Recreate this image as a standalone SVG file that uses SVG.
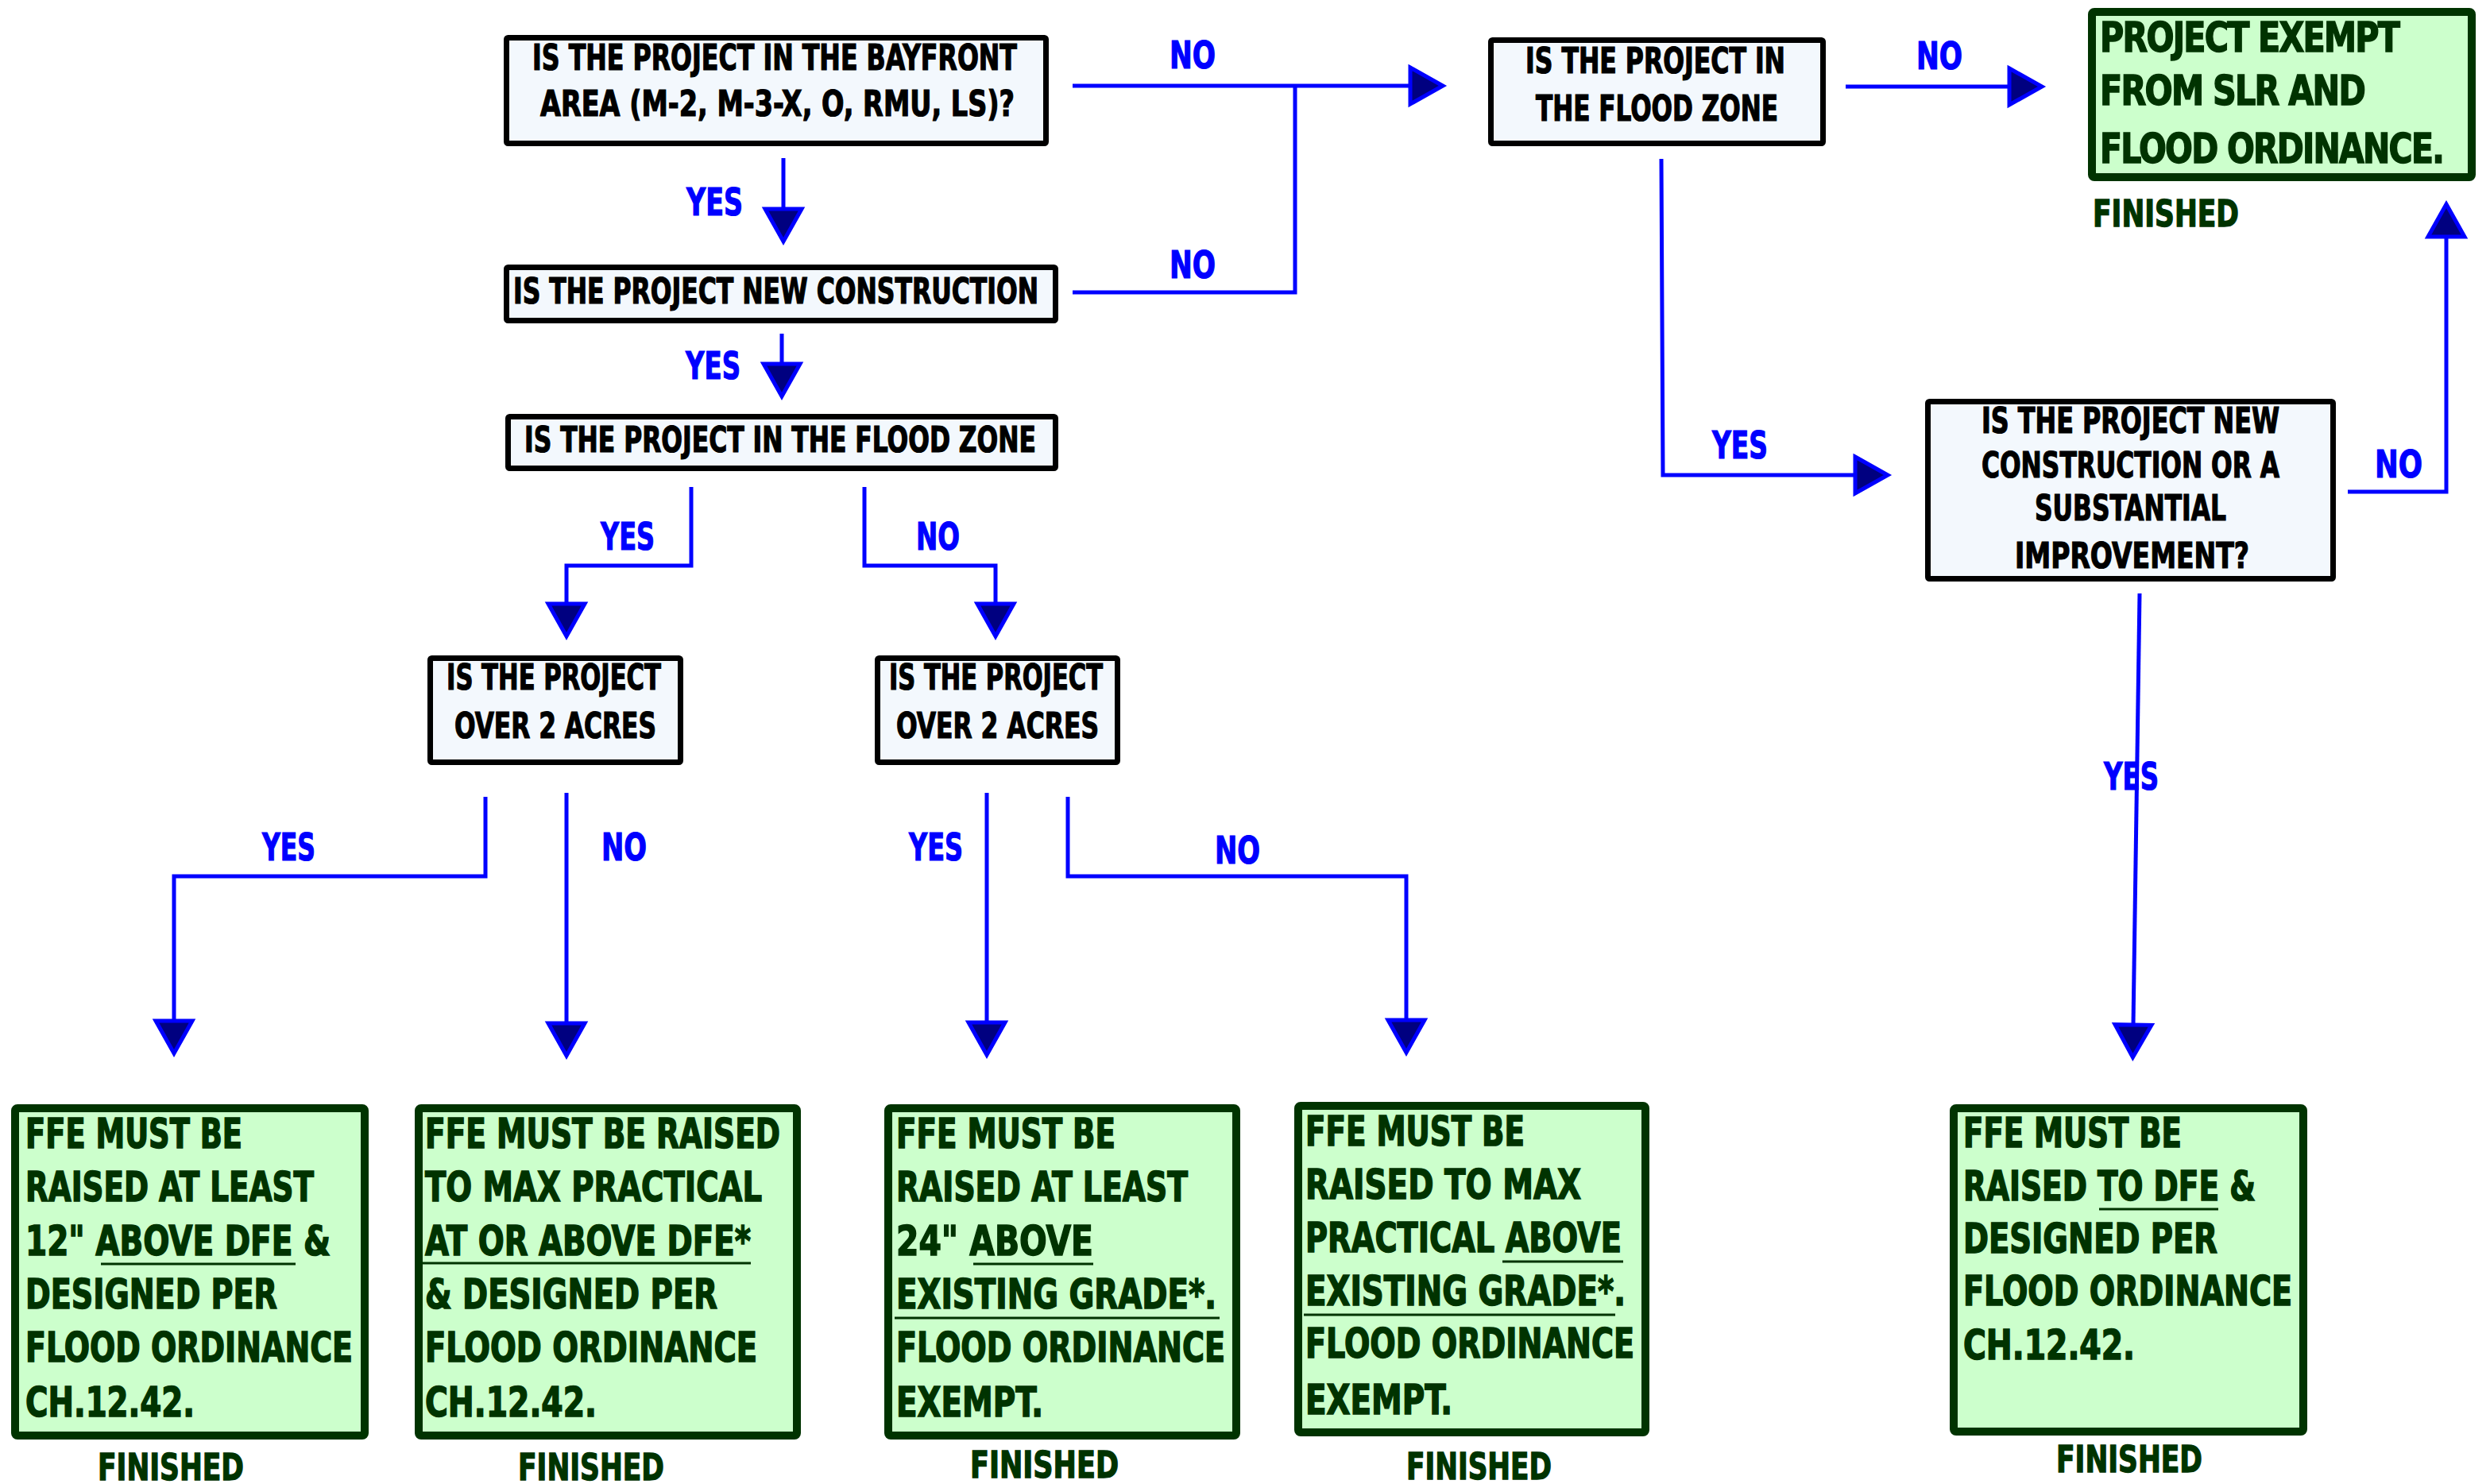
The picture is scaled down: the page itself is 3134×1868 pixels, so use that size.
<svg xmlns="http://www.w3.org/2000/svg" width="3134" height="1868" viewBox="0 0 3134 1868">
<style>
text{font-family:"DejaVu Sans Condensed","Liberation Sans Narrow","Liberation Sans",sans-serif;font-weight:bold}
.q{fill:#F3F8FD;stroke:#000;stroke-width:7}
.g{fill:#CCFFCC;stroke:#003300;stroke-width:10}
.qt{font-size:44px;fill:#000;stroke:#000;stroke-width:1.2}
.gt{font-size:52px;fill:#003300;stroke:#003300;stroke-width:1.5}
.tight{letter-spacing:-2px}
.fin{font-size:47px;fill:#003300;stroke:#003300;stroke-width:1.3}
.lbl{font-size:48px;fill:#0000FF;stroke:#0000FF;stroke-width:1.2}
.ul{stroke:#003300;stroke-width:3}
.c{fill:none;stroke:#0000FF;stroke-width:5;marker-end:url(#ah)}
.cn{fill:none;stroke:#0000FF;stroke-width:5}
</style>
<defs>
<marker id="ah" markerUnits="userSpaceOnUse" viewBox="-6 -30 56 60" refX="0" refY="0" markerWidth="56" markerHeight="60" orient="auto">
<path d="M0,-23 L41,0 L0,23 Z" fill="#000080" stroke="#0000FF" stroke-width="5"/>
</marker>
</defs>
<rect width="3134" height="1868" fill="#fff"/>

<g id="connectors">
<path class="c" d="M986,199 L986,263"/>
<path class="c" d="M984,420 L984,458"/>
<path class="c" d="M1350,108 L1775,108"/>
<path class="cn" d="M1350,368 L1630,368 L1630,108"/>
<path class="c" d="M2323,109 L2529,109"/>
<path class="c" d="M2091,200 L2093,598 L2335,598"/>
<path class="c" d="M2955,619 L3079,619 L3079,298"/>
<path class="c" d="M2693,747 L2685,1290"/>
<path class="c" d="M870,613 L870,712 L713,712 L713,760"/>
<path class="c" d="M1088,613 L1088,712 L1253,712 L1253,760"/>
<path class="c" d="M611,1003 L611,1103 L219,1103 L219,1285"/>
<path class="c" d="M713,998 L713,1288"/>
<path class="c" d="M1242,998 L1242,1287"/>
<path class="c" d="M1344,1003 L1344,1103 L1770,1103 L1770,1284"/>
<text class="lbl" x="864" y="271" textLength="71" lengthAdjust="spacingAndGlyphs">YES</text>
<text class="lbl" x="863" y="477" textLength="69" lengthAdjust="spacingAndGlyphs">YES</text>
<text class="lbl" x="1472" y="86" textLength="58" lengthAdjust="spacingAndGlyphs">NO</text>
<text class="lbl" x="1472" y="350" textLength="58" lengthAdjust="spacingAndGlyphs">NO</text>
<text class="lbl" x="2412" y="87" textLength="58" lengthAdjust="spacingAndGlyphs">NO</text>
<text class="lbl" x="2155" y="577" textLength="70" lengthAdjust="spacingAndGlyphs">YES</text>
<text class="lbl" x="2989" y="601" textLength="60" lengthAdjust="spacingAndGlyphs">NO</text>
<text class="lbl" x="2648" y="994" textLength="69" lengthAdjust="spacingAndGlyphs">YES</text>
<text class="lbl" x="756" y="692" textLength="68" lengthAdjust="spacingAndGlyphs">YES</text>
<text class="lbl" x="1153" y="692" textLength="55" lengthAdjust="spacingAndGlyphs">NO</text>
<text class="lbl" x="330" y="1083" textLength="67" lengthAdjust="spacingAndGlyphs">YES</text>
<text class="lbl" x="757" y="1083" textLength="57" lengthAdjust="spacingAndGlyphs">NO</text>
<text class="lbl" x="1144" y="1083" textLength="68" lengthAdjust="spacingAndGlyphs">YES</text>
<text class="lbl" x="1529" y="1087" textLength="57" lengthAdjust="spacingAndGlyphs">NO</text>
</g>

<g id="n-bayfront">
<rect class="q" x="637.5" y="47.5" width="679" height="133" rx="2"/>
<text class="qt" x="670" y="88" textLength="610" lengthAdjust="spacingAndGlyphs">IS THE PROJECT IN THE BAYFRONT</text>
<text class="qt" x="680" y="146" textLength="597" lengthAdjust="spacingAndGlyphs">AREA (M-2, M-3-X, O, RMU, LS)?</text>
</g>

<g id="n-newconstruction">
<rect class="q" x="637.5" y="336.5" width="691" height="67" rx="2"/>
<text class="qt" x="646" y="382" textLength="661" lengthAdjust="spacingAndGlyphs">IS THE PROJECT NEW CONSTRUCTION</text>
</g>

<g id="n-floodzone-right">
<rect class="q" x="1876.5" y="50.5" width="418" height="130" rx="2"/>
<text class="qt" x="1920" y="92" textLength="327" lengthAdjust="spacingAndGlyphs">IS THE PROJECT IN</text>
<text class="qt" x="1933" y="152" textLength="305" lengthAdjust="spacingAndGlyphs">THE FLOOD ZONE</text>
</g>

<g id="n-floodzone">
<rect class="q" x="639.5" y="524.5" width="689" height="65" rx="2"/>
<text class="qt" x="660" y="569" textLength="644" lengthAdjust="spacingAndGlyphs">IS THE PROJECT IN THE FLOOD ZONE</text>
</g>

<g id="n-acres-left">
<rect class="q" x="541.5" y="828.5" width="315" height="131" rx="2"/>
<text class="qt" x="562" y="868" textLength="270" lengthAdjust="spacingAndGlyphs">IS THE PROJECT</text>
<text class="qt" x="572" y="929" textLength="254" lengthAdjust="spacingAndGlyphs">OVER 2 ACRES</text>
</g>

<g id="n-acres-right">
<rect class="q" x="1104.5" y="828.5" width="302" height="131" rx="2"/>
<text class="qt" x="1119" y="868" textLength="269" lengthAdjust="spacingAndGlyphs">IS THE PROJECT</text>
<text class="qt" x="1128" y="929" textLength="255" lengthAdjust="spacingAndGlyphs">OVER 2 ACRES</text>
</g>

<g id="n-substantial">
<rect class="q" x="2426.5" y="505.5" width="510" height="223" rx="2"/>
<text class="qt" x="2494" y="545" textLength="375" lengthAdjust="spacingAndGlyphs">IS THE PROJECT NEW</text>
<text class="qt" x="2494" y="601" textLength="375" lengthAdjust="spacingAndGlyphs">CONSTRUCTION OR A</text>
<text class="qt" x="2561" y="655" textLength="241" lengthAdjust="spacingAndGlyphs">SUBSTANTIAL</text>
<text class="qt" x="2536" y="715" textLength="295" lengthAdjust="spacingAndGlyphs">IMPROVEMENT?</text>
</g>

<g id="r-exempt">
<rect class="g" x="2633" y="15" width="478" height="208" rx="3"/>
<text class="gt tight" x="2643" y="65" textLength="376" lengthAdjust="spacingAndGlyphs">PROJECT EXEMPT</text>
<text class="gt tight" x="2643" y="132" textLength="333" lengthAdjust="spacingAndGlyphs">FROM SLR AND</text>
<text class="gt tight" x="2643" y="205" textLength="432" lengthAdjust="spacingAndGlyphs">FLOOD ORDINANCE.</text>
<text class="fin" x="2634" y="285" textLength="184" lengthAdjust="spacingAndGlyphs">FINISHED</text>
</g>

<g id="r-12in">
<rect class="g" x="19" y="1395" width="440" height="412" rx="3"/>
<text class="gt" x="32" y="1445" textLength="273" lengthAdjust="spacingAndGlyphs">FFE MUST BE</text>
<text class="gt" x="32" y="1512" textLength="363" lengthAdjust="spacingAndGlyphs">RAISED AT LEAST</text>
<text class="gt" x="32" y="1580" textLength="384" lengthAdjust="spacingAndGlyphs">12" ABOVE DFE &amp;</text>
<line class="ul" x1="127" y1="1591" x2="372" y2="1591"/>
<text class="gt" x="32" y="1647" textLength="317" lengthAdjust="spacingAndGlyphs">DESIGNED PER</text>
<text class="gt" x="32" y="1714" textLength="412" lengthAdjust="spacingAndGlyphs">FLOOD ORDINANCE</text>
<text class="gt" x="32" y="1783" textLength="213" lengthAdjust="spacingAndGlyphs">CH.12.42.</text>
<text class="fin" x="123" y="1863" textLength="184" lengthAdjust="spacingAndGlyphs">FINISHED</text>
</g>

<g id="r-maxdfe">
<rect class="g" x="527" y="1395" width="476" height="412" rx="3"/>
<text class="gt" x="535" y="1445" textLength="447" lengthAdjust="spacingAndGlyphs">FFE MUST BE RAISED</text>
<text class="gt" x="535" y="1512" textLength="424" lengthAdjust="spacingAndGlyphs">TO MAX PRACTICAL</text>
<text class="gt" x="535" y="1580" textLength="410" lengthAdjust="spacingAndGlyphs">AT OR ABOVE DFE*</text>
<line class="ul" x1="532" y1="1590" x2="945" y2="1590"/>
<text class="gt" x="535" y="1647" textLength="368" lengthAdjust="spacingAndGlyphs">&amp; DESIGNED PER</text>
<text class="gt" x="535" y="1714" textLength="418" lengthAdjust="spacingAndGlyphs">FLOOD ORDINANCE</text>
<text class="gt" x="535" y="1783" textLength="216" lengthAdjust="spacingAndGlyphs">CH.12.42.</text>
<text class="fin" x="652" y="1863" textLength="184" lengthAdjust="spacingAndGlyphs">FINISHED</text>
</g>

<g id="r-24in">
<rect class="g" x="1118" y="1395" width="438" height="412" rx="3"/>
<text class="gt" x="1128" y="1445" textLength="276" lengthAdjust="spacingAndGlyphs">FFE MUST BE</text>
<text class="gt" x="1128" y="1512" textLength="367" lengthAdjust="spacingAndGlyphs">RAISED AT LEAST</text>
<text class="gt" x="1128" y="1580" textLength="248" lengthAdjust="spacingAndGlyphs">24" ABOVE</text>
<line class="ul" x1="1225" y1="1591" x2="1376" y2="1591"/>
<text class="gt" x="1128" y="1647" textLength="403" lengthAdjust="spacingAndGlyphs">EXISTING GRADE*.</text>
<line class="ul" x1="1126" y1="1659" x2="1535" y2="1659"/>
<text class="gt" x="1128" y="1714" textLength="414" lengthAdjust="spacingAndGlyphs">FLOOD ORDINANCE</text>
<text class="gt" x="1128" y="1783" textLength="185" lengthAdjust="spacingAndGlyphs">EXEMPT.</text>
<text class="fin" x="1221" y="1860" textLength="187" lengthAdjust="spacingAndGlyphs">FINISHED</text>
</g>

<g id="r-maxgrade">
<rect class="g" x="1634" y="1392" width="437" height="411" rx="3"/>
<text class="gt" x="1643" y="1442" textLength="276" lengthAdjust="spacingAndGlyphs">FFE MUST BE</text>
<text class="gt" x="1643" y="1509" textLength="347" lengthAdjust="spacingAndGlyphs">RAISED TO MAX</text>
<text class="gt" x="1643" y="1576" textLength="398" lengthAdjust="spacingAndGlyphs">PRACTICAL ABOVE</text>
<line class="ul" x1="1891" y1="1588" x2="2043" y2="1588"/>
<text class="gt" x="1643" y="1643" textLength="403" lengthAdjust="spacingAndGlyphs">EXISTING GRADE*.</text>
<line class="ul" x1="1641" y1="1655" x2="2033" y2="1655"/>
<text class="gt" x="1643" y="1709" textLength="414" lengthAdjust="spacingAndGlyphs">FLOOD ORDINANCE</text>
<text class="gt" x="1643" y="1780" textLength="185" lengthAdjust="spacingAndGlyphs">EXEMPT.</text>
<text class="fin" x="1770" y="1862" textLength="183" lengthAdjust="spacingAndGlyphs">FINISHED</text>
</g>

<g id="r-todfe">
<rect class="g" x="2459" y="1395" width="440" height="407" rx="3"/>
<text class="gt" x="2471" y="1444" textLength="275" lengthAdjust="spacingAndGlyphs">FFE MUST BE</text>
<text class="gt" x="2471" y="1511" textLength="368" lengthAdjust="spacingAndGlyphs">RAISED TO DFE &amp;</text>
<line class="ul" x1="2642" y1="1522" x2="2792" y2="1522"/>
<text class="gt" x="2471" y="1577" textLength="320" lengthAdjust="spacingAndGlyphs">DESIGNED PER</text>
<text class="gt" x="2471" y="1643" textLength="414" lengthAdjust="spacingAndGlyphs">FLOOD ORDINANCE</text>
<text class="gt" x="2471" y="1711" textLength="216" lengthAdjust="spacingAndGlyphs">CH.12.42.</text>
<text class="fin" x="2588" y="1853" textLength="184" lengthAdjust="spacingAndGlyphs">FINISHED</text>
</g>
</svg>
